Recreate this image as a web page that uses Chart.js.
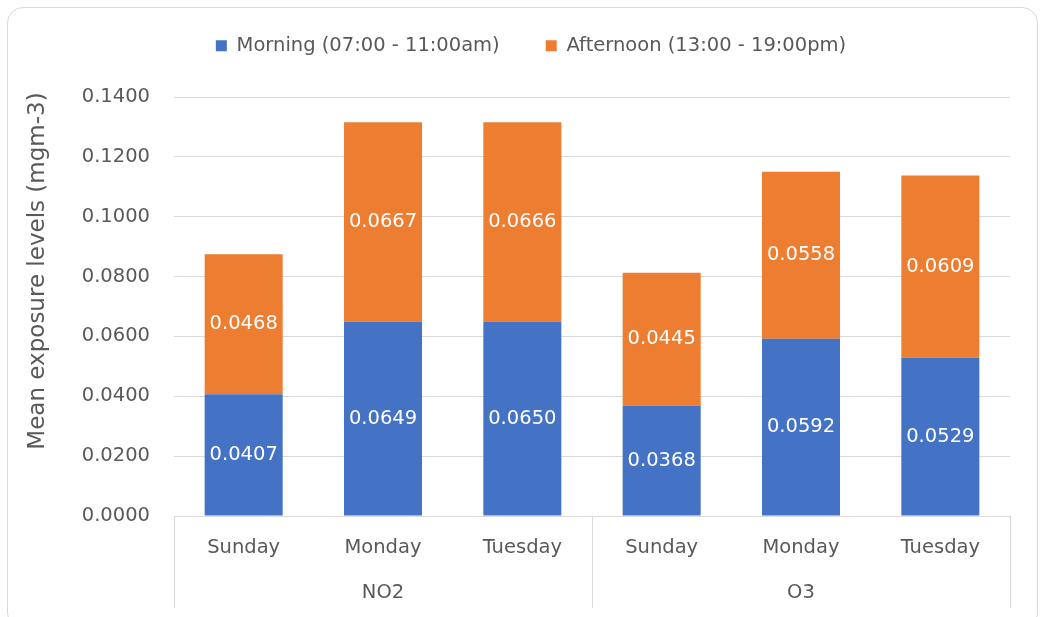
<!DOCTYPE html>
<html>
<head>
<meta charset="utf-8">
<script src="https://cdn.jsdelivr.net/npm/chart.js@4.4.0/dist/chart.umd.min.js"></script>
<style>
  html, body { margin: 0; padding: 0; background: #fff; }
  #wrap { position: relative; width: 1044px; height: 617px; overflow: hidden; }
  #frame { position: absolute; left: 7px; top: 7px; width: 1031px; height: 622px; border: 1.5px solid #d9d9d9; border-radius: 16px; box-sizing: border-box; }
  canvas { position: absolute; left: 0; top: 0; }
</style>
</head>
<body>
<div id="wrap">
  <div id="frame"></div>
  <canvas id="chart" width="1044" height="617"></canvas>
</div>
<script>
// data
const days = ["Sunday", "Monday", "Tuesday", "Sunday", "Monday", "Tuesday"];
const groups = ["NO2", "O3"];
const groupSize = [3, 3];
const morning = [0.0407, 0.0649, 0.0650, 0.0368, 0.0592, 0.0529];
const afternoon = [0.0468, 0.0667, 0.0666, 0.0445, 0.0558, 0.0609];
const seriesNames = ["Morning (07:00 - 11:00am)", "Afternoon (13:00 - 19:00pm)"];
const yTitle = "Mean exposure levels (mgm-3)";
const yMax = 0.14;
const yStep = 0.02;

const FONT = '"DejaVu Sans", sans-serif';
const TXT = "#595959";

// legend: keep items near the top, leave the gap down to the plot
const legendFix = {
  id: "legendFix",
  afterInit(chart) {
    const lg = chart.legend;
    const fit = lg.fit, draw = lg.draw;
    lg.fit = function () { fit.call(this); this.height = 97; };
    lg.draw = function () {
      const c = this.ctx;
      c.save();
      c.translate(26, -10);
      draw.call(this);
      c.restore();
    };
  }
};

// white value labels in the middle of every bar segment
const barLabels = {
  id: "barLabels",
  afterDatasetsDraw(chart) {
    const ctx = chart.ctx;
    ctx.save();
    ctx.font = "19.5px " + FONT;
    ctx.fillStyle = "#ffffff";
    ctx.textAlign = "center";
    ctx.textBaseline = "middle";
    chart.data.datasets.forEach((ds, i) => {
      chart.getDatasetMeta(i).data.forEach((bar, j) => {
        ctx.fillText(ds.data[j].toFixed(4), bar.x, (bar.y + bar.base) / 2);
      });
    });
    ctx.restore();
  }
};

// second level of the category axis (NO2 / O3) with separators, plus y title
const groupAxis = {
  id: "groupAxis",
  afterDraw(chart) {
    const ctx = chart.ctx;
    const area = chart.chartArea;
    const xs = chart.scales.x;
    const step = (area.right - area.left) / days.length;
    const bottom = chart.height - 9;
    ctx.save();
    ctx.strokeStyle = "#d9d9d9";
    ctx.lineWidth = 1;
    ctx.beginPath();
    ctx.moveTo(area.left, Math.round(area.bottom) + 0.5);
    ctx.lineTo(area.right, Math.round(area.bottom) + 0.5);
    let k = 0;
    const cuts = [0];
    groupSize.forEach(n => { k += n; cuts.push(k); });
    cuts.forEach(c => {
      const px = Math.round(area.left + c * step) + 0.5;
      ctx.moveTo(px, area.bottom);
      ctx.lineTo(px, bottom);
    });
    ctx.stroke();

    ctx.fillStyle = TXT;
    ctx.font = "19.5px " + FONT;
    ctx.textAlign = "center";
    ctx.textBaseline = "middle";
    groups.forEach((g, i) => {
      const a = xs.getPixelForValue(cuts[i]);
      const b = xs.getPixelForValue(cuts[i + 1] - 1);
      ctx.fillText(g, (a + b) / 2, 593);
    });

    ctx.translate(38, 271);
    ctx.rotate(-Math.PI / 2);
    ctx.font = "23px " + FONT;
    ctx.fillText(yTitle, 0, 0);
    ctx.restore();
  }
};

new Chart(document.getElementById("chart"), {
  type: "bar",
  data: {
    labels: days,
    datasets: [
      { label: seriesNames[0], data: morning, backgroundColor: "#4472C4" },
      { label: seriesNames[1], data: afternoon, backgroundColor: "#ED7D31" }
    ]
  },
  options: {
    responsive: false,
    animation: false,
    layout: { padding: { top: 0, right: 34, bottom: 0, left: 0 } },
    datasets: { bar: { categoryPercentage: 1, barPercentage: 0.56 } },
    plugins: {
      legend: {
        position: "top",
        labels: {
          boxWidth: 11, boxHeight: 11, padding: 46,
          color: TXT, font: { family: FONT, size: 19.5 }
        }
      },
      tooltip: { enabled: false }
    },
    scales: {
      x: {
        stacked: true,
        grid: { display: false },
        border: { display: false },
        ticks: { color: TXT, font: { family: FONT, size: 19.5 }, padding: 12 },
        afterFit(s) { s.height = 101; }
      },
      y: {
        stacked: true,
        min: 0, max: yMax,
        grid: { color: "#d9d9d9", drawTicks: false },
        border: { display: false },
        ticks: {
          stepSize: yStep, padding: 24, color: TXT,
          font: { family: FONT, size: 19.5 },
          callback: v => v.toFixed(4)
        },
        afterFit(s) { s.width = 174; }
      }
    }
  },
  plugins: [legendFix, barLabels, groupAxis]
});
</script>
</body>
</html>
